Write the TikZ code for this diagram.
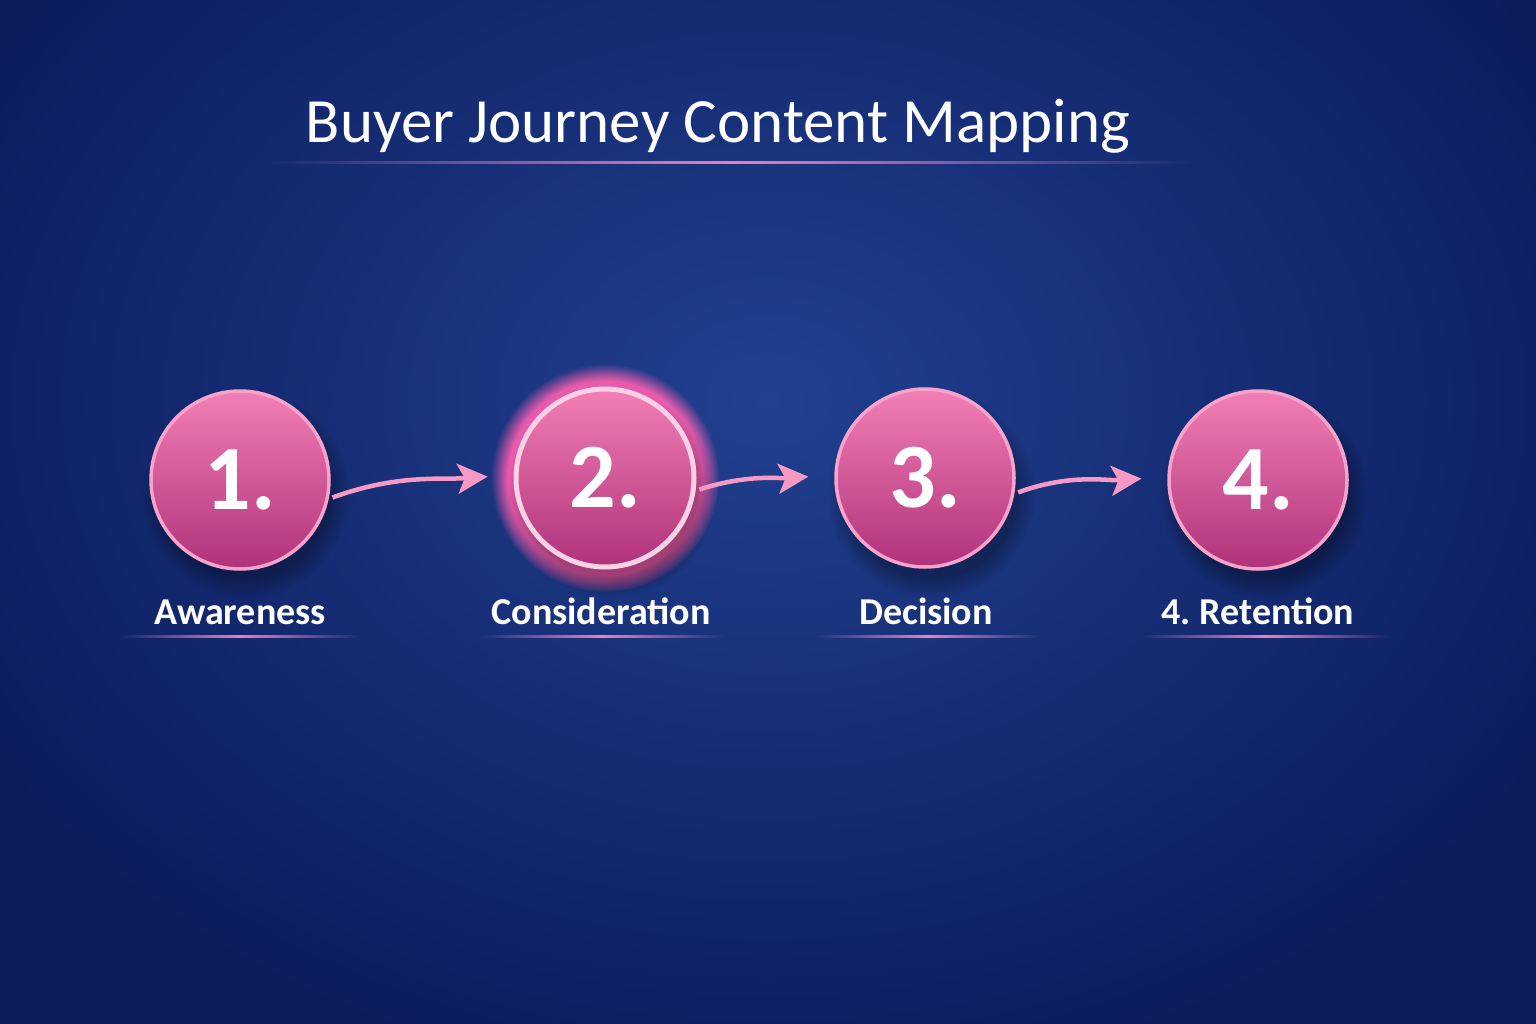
\documentclass[tikz,border=0pt]{standalone}
\usepackage{fontspec}
\setmainfont{Carlito}
\usetikzlibrary{fadings,arrows.meta,shadows}
\definecolor{bgmid}{HTML}{21408F}
\definecolor{bgout}{HTML}{0B1B5C}
\definecolor{pktop}{HTML}{F27FB5}
\definecolor{pkbot}{HTML}{B0327A}
\definecolor{pkrim}{HTML}{F7A3CB}
\definecolor{pkline}{HTML}{EC80BC}
\definecolor{arrowpk}{HTML}{F59AC4}
\definecolor{arrowdim}{HTML}{B76FB5}
\definecolor{glowpk}{HTML}{FF5FB0}
\tikzfading[name=fadesides, left color=transparent!100, right color=transparent!100, middle color=transparent!0]
\tikzset{
  stage/.style={circle, minimum size=178pt, inner sep=0pt, top color=pktop, bottom color=pkbot,
     draw=pkrim, line width=3.5pt, text=white, font=\fontsize{92}{92}\selectfont\bfseries},
  lbl/.style={text=white, font=\fontsize{38}{38}\selectfont\bfseries, anchor=base},
  arr/.style={draw=arrowpk, line width=4.5pt, -{Stealth[length=30pt,width=30pt,inset=7pt]}, shorten >=26pt, shorten <=4pt},
  uline/.style={fill=pkline, path fading=fadesides},
}
\begin{document}
\frenchspacing
\begin{tikzpicture}[x=1pt,y=-1pt]
\useasboundingbox (0,0) rectangle (1536,1024);
\fill[bgout] (0,0) rectangle (1536,1024);
\shade[inner color=bgmid, outer color=bgout] (-150,-300) rectangle (1686,1100);
% title
\node[text=white, font=\fontsize{63}{63}\selectfont, anchor=base] (title) at (718,143) {Buyer Journey Content Mapping};
\fill[uline] (265,161.5) rectangle (1195,164.5);
% glow for stage 2
\fill[glowpk, path fading=circle with fuzzy edge 15 percent, opacity=0.9] (605,478) circle (114);
% shadows
\foreach \cx in {240,605,925,1258}{
  \fill[black, opacity=0.3, path fading=circle with fuzzy edge 20 percent] (\cx+6,494) circle (104);
}
\node[stage] (c1) at (240,480) {1.};
\node[stage, draw=pkrim!50!white, line width=5pt] (c2) at (605,478) {2.};
\node[stage] (c3) at (925,478) {3.};
\node[stage] (c4) at (1258,480) {4.};
% labels
\node[lbl] (l1) at (240,624) {Awareness};
\node[lbl] (l2) at (601,624) {Consideration};
\node[lbl] (l3) at (926,624) {Decision};
\node[lbl] (l4) at (1258,624) {4. Retention};
\fill[uline] (120,634.5) rectangle (360,638);
\fill[uline] (480,634.5) rectangle (725,638);
\fill[uline] (815,634.5) rectangle (1040,638);
\fill[uline] (1140,634.5) rectangle (1390,638);
% arrows
\draw[arr] (c1.-12) to[out=20,in=184] (c2.178);
\draw[arr] (c2.-8) to[out=18,in=184] (c3.178);
\draw[arr] (c3.-10) to[out=20,in=184] (c4.178);
\end{tikzpicture}
\end{document}
